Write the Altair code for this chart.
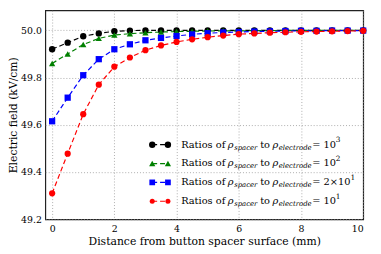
import altair as alt
import pandas as pd

# ---- data ----
distance = [0, 0.5, 1, 1.5, 2, 2.5, 3, 3.5, 4, 4.5, 5, 5.5, 6, 6.5, 7, 7.5, 8, 8.5, 9, 9.5, 10]
e_1e3 = [49.920, 49.948, 49.975, 49.987, 49.996, 49.999, 50.000, 50.000, 50.000, 50.000, 50.000,
         50.000, 50.000, 50.000, 50.000, 50.000, 50.000, 50.000, 50.000, 50.000, 50.000]
e_1e2 = [49.860, 49.900, 49.940, 49.966, 49.980, 49.986, 49.990, 49.993, 49.995, 49.996, 49.997,
         49.998, 49.998, 49.999, 49.999, 50.000, 50.000, 50.000, 50.000, 50.000, 50.000]
e_2e1 = [49.615, 49.715, 49.810, 49.878, 49.920, 49.941, 49.958, 49.968, 49.976, 49.983, 49.988,
         49.991, 49.993, 49.995, 49.996, 49.997, 49.998, 49.998, 49.999, 49.999, 49.999]
e_1e1 = [49.310, 49.478, 49.645, 49.770, 49.846, 49.885, 49.916, 49.936, 49.951, 49.962, 49.971,
         49.978, 49.984, 49.987, 49.990, 49.992, 49.994, 49.995, 49.996, 49.997, 49.998]

series_names = ["1e3", "1e2", "2e1", "1e1"]
series_values = [e_1e3, e_1e2, e_2e1, e_1e1]
series_colors = ["#000000", "#008000", "#0000ff", "#ff0000"]
series_shapes = ["circle", "triangle-up", "square", "circle"]
series_sizes = [42, 40, 34, 26]
legend_base = ["= 10", "= 10", "= 2×10", "= 10"]
legend_sup = ["3", "2", "1", "1"]

x_ticks = [0, 2, 4, 6, 8, 10]
y_ticks = [49.2, 49.4, 49.6, 49.8, 50.0]

FONT = "DejaVu Serif"

rows = []
for name, vals in zip(series_names, series_values):
    for d, v in zip(distance, vals):
        rows.append({"distance": d, "field": v, "series": name})
df = pd.DataFrame(rows)

xs = alt.Scale(domain=[-0.22, 10], nice=False, zero=False)
ys = alt.Scale(domain=[49.2, 50.085], nice=False, zero=False)
cs = alt.Scale(domain=series_names, range=series_colors)
ss = alt.Scale(domain=series_names, range=series_shapes)
zs = alt.Scale(domain=series_names, range=series_sizes)

x_enc = alt.X("distance:Q", scale=xs,
              axis=alt.Axis(values=x_ticks, format="d", title="Distance from button spacer surface (mm)",
                            grid=True, ticks=False, domain=False, labelPadding=4, titlePadding=3))
y_enc = alt.Y("field:Q", scale=ys,
              axis=alt.Axis(values=y_ticks, format=".1f", title="Electric field (kV/cm)",
                            grid=True, ticks=False, domain=False, labelPadding=4, titlePadding=2))

lines = alt.Chart(df).mark_line(strokeDash=[5, 3], strokeWidth=1.2).encode(
    x=x_enc, y=y_enc,
    color=alt.Color("series:N", scale=cs, legend=None),
    detail="series:N",
)
points = alt.Chart(df).mark_point(filled=True, opacity=1).encode(
    x="distance:Q", y="field:Q",
    color=alt.Color("series:N", scale=cs, legend=None),
    shape=alt.Shape("series:N", scale=ss, legend=None),
    size=alt.Size("series:N", scale=zs, legend=None),
)

# ---- hand-built legend (layout positions in pixels) ----
row_y = [137, 156.2, 175.4, 194.6]
sup_x = [296, 296, 311, 296]
sym_rows, seg_rows, txt_norm, txt_ital = [], [], [], []
for i in range(4):
    y = row_y[i]
    for px in (109, 125):
        sym_rows.append({"px": px, "py": y, "c": series_colors[i], "s": series_shapes[i], "z": series_sizes[i]})
    seg_rows.append({"px": 109, "px2": 125, "py": y, "c": series_colors[i]})
    txt_norm += [
        {"px": 138.5, "py": y, "t": "Ratios of", "fs": 10},
        {"px": 219, "py": y, "t": "to", "fs": 10},
        {"px": 272, "py": y, "t": legend_base[i], "fs": 10},
        {"px": sup_x[i], "py": y - 4.5, "t": legend_sup[i], "fs": 7.5},
    ]
    txt_ital += [
        {"px": 186, "py": y, "t": "ρ", "fs": 10},
        {"px": 192.5, "py": y + 3, "t": "spacer", "fs": 7},
        {"px": 231.5, "py": y, "t": "ρ", "fs": 10},
        {"px": 238, "py": y + 3, "t": "electrode", "fs": 7},
    ]

leg_seg = alt.Chart(pd.DataFrame(seg_rows)).mark_rule(strokeDash=[5, 3], strokeWidth=1.2).encode(
    x=alt.X("px:Q", scale=None), x2="px2:Q", y=alt.Y("py:Q", scale=None),
    color=alt.Color("c:N", scale=None),
)
leg_sym = alt.Chart(pd.DataFrame(sym_rows)).mark_point(filled=True, opacity=1).encode(
    x=alt.X("px:Q", scale=None), y=alt.Y("py:Q", scale=None),
    color=alt.Color("c:N", scale=None),
    shape=alt.Shape("s:N", scale=None),
    size=alt.Size("z:Q", scale=None),
)
leg_txt = alt.Chart(pd.DataFrame(txt_norm)).mark_text(align="left", baseline="middle", font=FONT, color="black").encode(
    x=alt.X("px:Q", scale=None), y=alt.Y("py:Q", scale=None),
    text="t:N", size=alt.Size("fs:Q", scale=None),
)
leg_ital = alt.Chart(pd.DataFrame(txt_ital)).mark_text(align="left", baseline="middle", font=FONT,
                                                       fontStyle="italic", color="black").encode(
    x=alt.X("px:Q", scale=None), y=alt.Y("py:Q", scale=None),
    text="t:N", size=alt.Size("fs:Q", scale=None),
)

chart = alt.layer(lines, points, leg_seg, leg_sym, leg_txt, leg_ital).properties(
    width=324, height=213,
    autosize=alt.AutoSizeParams(type="none"),
    padding={"left": 38, "top": 0, "right": 10, "bottom": 30},
).configure_view(
    stroke="#222222", strokeWidth=1.2
).configure_axis(
    labelFont=FONT, titleFont=FONT, labelFontSize=9.5, titleFontSize=11,
    labelColor="black", titleColor="black", titleFontWeight="normal",
    gridColor="#999999", gridDash=[1, 2], gridWidth=0.8,
)

chart.save("out.html", embed_options={"renderer": "svg", "actions": False})
